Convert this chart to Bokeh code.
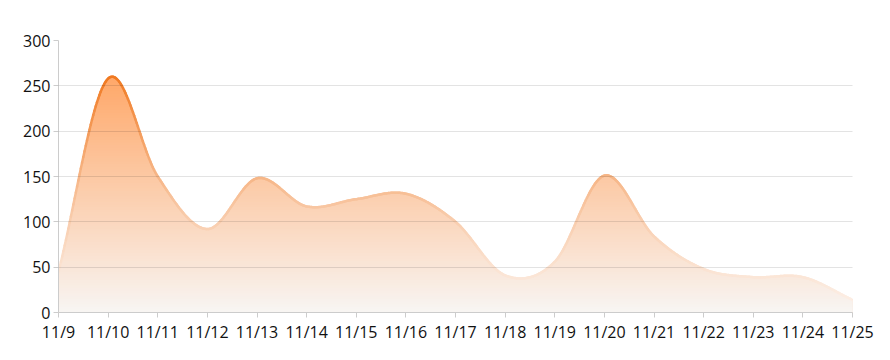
import numpy as np
from bokeh.plotting import figure
from bokeh.models import Range1d, FixedTicker
from bokeh.embed import file_html
from bokeh.resources import INLINE

dates = ["11/9", "11/10", "11/11", "11/12", "11/13", "11/14", "11/15", "11/16",
         "11/17", "11/18", "11/19", "11/20", "11/21", "11/22", "11/23", "11/24", "11/25"]
values = [45, 258, 150, 92, 148, 117, 125, 131, 100, 41, 56, 151, 84, 48, 39, 39, 14]
y_ticks = [0, 50, 100, 150, 200, 250, 300]

xs = np.arange(len(dates), dtype=float)
ys = np.array(values, dtype=float)


def catmull(x, y, n=40):
    px, py = [], []
    m = len(x)
    for i in range(m - 1):
        y0 = y[i - 1] if i > 0 else 2 * y[i] - y[i + 1]
        y3 = y[i + 2] if i + 2 < m else 2 * y[i + 1] - y[i]
        y1, y2 = y[i], y[i + 1]
        t = np.linspace(0, 1, n, endpoint=False)
        if i == m - 2:
            t = np.linspace(0, 1, n + 1)
        t2, t3 = t * t, t * t * t
        yy = 0.5 * ((2 * y1) + (-y0 + y2) * t + (2 * y0 - 5 * y1 + 4 * y2 - y3) * t2
                    + (-y0 + 3 * y1 - 3 * y2 + y3) * t3)
        px.append(x[i] + t * (x[i + 1] - x[i]))
        py.append(yy)
    return np.concatenate(px), np.concatenate(py)


cx, cy = catmull(xs, ys)
cy = np.maximum(cy, 0)

p = figure(width=890, height=360, output_backend="svg", toolbar_location=None,
           x_range=Range1d(0, 16), y_range=Range1d(0, 300),
           min_border_left=58, min_border_right=38, min_border_top=40, min_border_bottom=48)
p.outline_line_color = None
p.background_fill_color = "white"
p.border_fill_color = "white"

top_c = np.array([255, 166, 102])
bot_c = np.array([248, 245, 243])
ymax = 265.0


def col(v, a, b, g=1.0):
    f = min(max(v / ymax, 0), 1) ** g
    c = b + (a - b) * f
    return "#%02x%02x%02x" % tuple(int(round(k)) for k in c)


# gradient area: stacked from top band down, no seams
levels = np.linspace(ymax, 0, 90)[:-1]
for hi in levels:
    p.varea(x=cx, y1=np.zeros_like(cx), y2=np.minimum(cy, hi),
            fill_color=col(hi - 1.5, top_c, bot_c), fill_alpha=1.0)

# gradient line
line_top = np.array([240, 118, 28])
line_bot = np.array([252, 240, 232])
mids = (cy[:-1] + cy[1:]) / 2
colors = [col(v, line_top, line_bot, 1.3) for v in mids]
p.segment(x0=cx[:-1], y0=cy[:-1], x1=cx[1:], y1=cy[1:], line_color=colors,
          line_width=2.5, line_cap="round")

p.xgrid.visible = False
p.ygrid.grid_line_color = "#000000"
p.ygrid.grid_line_alpha = 0.11
p.ygrid.level = "overlay"
p.ygrid.ticker = FixedTicker(ticks=y_ticks)

for ax in (p.xaxis[0], p.yaxis[0]):
    ax.axis_line_color = "#cccccc"
    ax.major_tick_line_color = "#cccccc"
    ax.major_tick_in = 0
    ax.major_tick_out = 5
    ax.minor_tick_line_color = None
    ax.major_label_text_font = "Open Sans"
    ax.major_label_text_font_size = "16px"
    ax.major_label_text_color = "#111111"

p.yaxis.ticker = FixedTicker(ticks=y_ticks)
p.yaxis.major_label_standoff = 3
p.xaxis.ticker = FixedTicker(ticks=list(range(len(dates))))
p.xaxis.major_label_overrides = {i: d for i, d in enumerate(dates)}
p.xaxis.major_label_standoff = 3

open("out.html", "w").write(file_html(p, INLINE))
